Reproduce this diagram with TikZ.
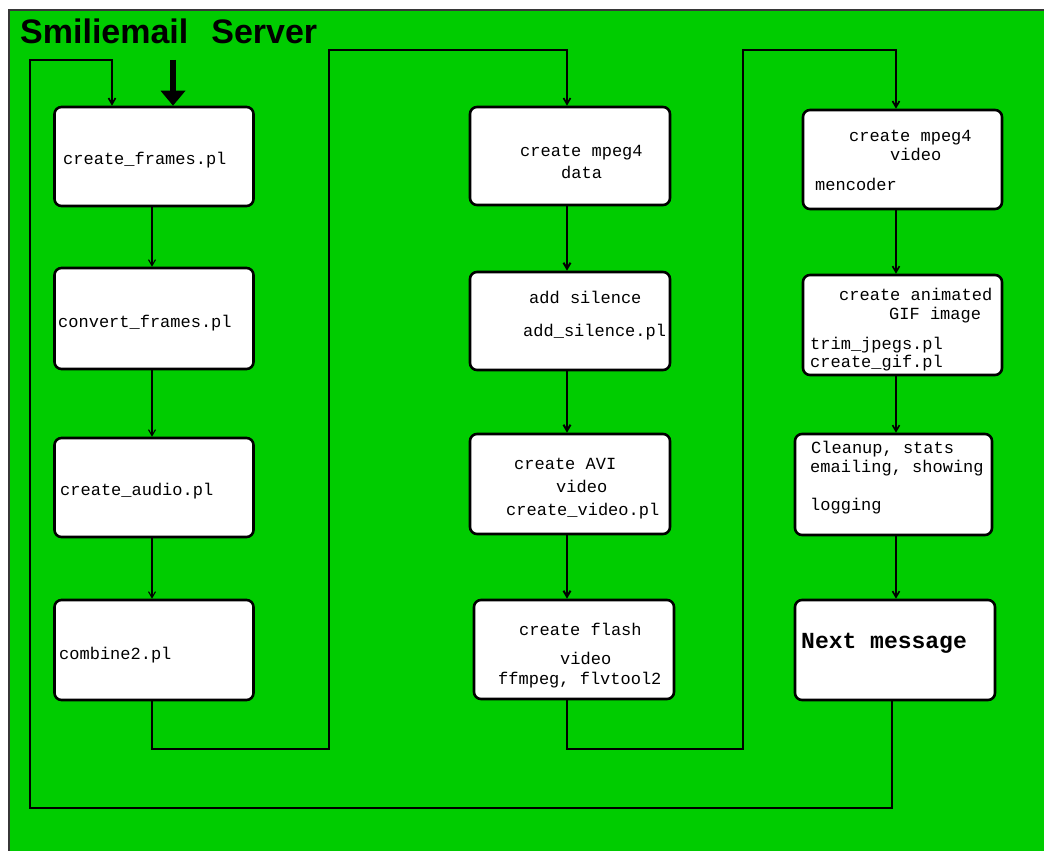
\documentclass[tikz,border=0pt]{standalone}
\usepackage{fontspec}
\setmainfont{Liberation Sans}
\setmonofont{Liberation Mono}
\usetikzlibrary{arrows.meta}
\definecolor{bggreen}{RGB}{0,204,0}
\definecolor{edgegray}{RGB}{55,55,55}
\begin{document}
\begin{tikzpicture}[x=1pt,y=-1pt,
  stepbox/.style={draw=black, line width=2.6pt, fill=white, rounded corners=7pt, inner sep=0pt},
  lbl/.style={anchor=mid west, inner sep=0pt, font=\fontsize{17}{20}\selectfont\ttfamily},
  biglbl/.style={anchor=mid west, inner sep=0pt, font=\fontsize{23}{26}\selectfont\ttfamily\bfseries},
  flow/.style={draw=black, -{Straight Barb[length=6pt,width=7pt]}},
  thinflow/.style={flow, line width=1.1pt},
  midflow/.style={flow, line width=1.6pt},
  boldflow/.style={flow, line width=2pt},
  route/.style={draw=black, line width=1.7pt},
]
% page and background
\useasboundingbox (0,0) rectangle (1044,851);
\fill[white] (0,0) rectangle (1044,851);
\fill[bggreen] (9,10) rectangle (1044,851);
\draw[edgegray, line width=1.8pt] (9,851) -- (9,10) -- (1044,10);

% title
\node[anchor=base west, inner sep=0pt, font=\fontsize{34}{38}\selectfont\bfseries] (title)
  at (20,44) {Smiliemail\hspace{23pt}Server};

% column guide coordinates
\coordinate (x1) at (152,0);
\coordinate (x2) at (567,0);
\coordinate (x3) at (896,0);
\coordinate (x3b) at (892,0);

% column 1
\node[stepbox, minimum width=199pt, minimum height=99pt] (c1a) at (154,156.5) {};
\node[stepbox, minimum width=199pt, minimum height=101pt] (c1b) at (154,318.5) {};
\node[stepbox, minimum width=199pt, minimum height=99pt] (c1c) at (154,487.5) {};
\node[stepbox, minimum width=199pt, minimum height=100pt] (c1d) at (154,650) {};

% column 2
\node[stepbox, minimum width=200pt, minimum height=98pt] (c2a) at (570,156) {};
\node[stepbox, minimum width=200pt, minimum height=98pt] (c2b) at (570,321) {};
\node[stepbox, minimum width=200pt, minimum height=100pt] (c2c) at (570,484) {};
\node[stepbox, minimum width=200pt, minimum height=99pt] (c2d) at (574,649.5) {};

% column 3
\node[stepbox, minimum width=199pt, minimum height=99pt] (c3a) at (902.5,159.5) {};
\node[stepbox, minimum width=199pt, minimum height=100pt] (c3b) at (902.5,325) {};
\node[stepbox, minimum width=197pt, minimum height=101pt] (c3c) at (893.5,484.5) {};
\node[stepbox, minimum width=200pt, minimum height=100pt] (c3d) at (895,650) {};

% box texts
\node[lbl] (t1a) at (63,162) {create\_frames.pl};
\node[lbl] (t1b) at (58,325) {convert\_frames.pl};
\node[lbl] (t1c) at (60,493) {create\_audio.pl};
\node[lbl] (t1d) at (59,657) {combine2.pl};

\node[lbl] (t2a1) at (520,154) {create mpeg4};
\node[lbl] (t2a2) at (561,176) {data};
\node[lbl] (t2b1) at (529,301) {add silence};
\node[lbl] (t2b2) at (523,334) {add\_silence.pl};
\node[lbl] (t2c1) at (514,467) {create AVI};
\node[lbl] (t2c2) at (556,490) {video};
\node[lbl] (t2c3) at (506,513) {create\_video.pl};
\node[lbl] (t2d1) at (519,633) {create flash};
\node[lbl] (t2d2) at (560,662) {video};
\node[lbl] (t2d3) at (498,682) {ffmpeg, flvtool2};

\node[lbl] (t3a1) at (849,139) {create mpeg4};
\node[lbl] (t3a2) at (890,158) {video};
\node[lbl] (t3a3) at (815,188) {mencoder};
\node[lbl] (t3b1) at (839,298) {create animated};
\node[lbl] (t3b2) at (889,317) {GIF image};
\node[lbl] (t3b3) at (810,347) {trim\_jpegs.pl};
\node[lbl] (t3b4) at (810,365) {create\_gif.pl};
\node[lbl] (t3c1) at (811,451) {Cleanup, stats};
\node[lbl] (t3c2) at (810,470) {emailing, showing};
\node[lbl] (t3c3) at (810,508) {logging};
\node[biglbl] (t3d1) at (801,646) {Next message};

% flow inside the columns
\draw[thinflow] (c1a.south -| x1) -- (c1b.north -| x1);
\draw[thinflow] (c1b.south -| x1) -- (c1c.north -| x1);
\draw[thinflow] (c1c.south -| x1) -- (c1d.north -| x1);

\draw[boldflow] (c2a.south -| x2) -- (c2b.north -| x2);
\draw[boldflow] (c2b.south -| x2) -- (c2c.north -| x2);
\draw[boldflow] (c2c.south -| x2) -- (c2d.north -| x2);

\draw[midflow] (c3a.south -| x3) -- (c3b.north -| x3);
\draw[midflow] (c3b.south -| x3) -- (c3c.north -| x3);
\draw[midflow] (c3c.south -| x3) -- (c3d.north -| x3);

% routes between the columns
\coordinate (j1) at (329,749);
\coordinate (j1top) at (329,50);
\coordinate (j2) at (743,749);
\coordinate (j2top) at (743,50);
\draw[route, -{Straight Barb[length=6pt,width=7pt]}]
  (c1d.south -| x1) |- (j1) -- (j1top) -| (c2a.north -| x2);
\draw[route, -{Straight Barb[length=6pt,width=7pt]}]
  (c2d.south -| x2) |- (j2) -- (j2top) -| (c3a.north -| x3);

% loop back to the first step
\coordinate (back) at (30,808);
\coordinate (loopin) at (112,60);
\draw[route, -{Straight Barb[length=6pt,width=7pt]}]
  (c3d.south -| x3b) |- (back) |- (loopin) -- (c1a.north -| loopin);

% incoming message
\coordinate (feed) at (173,60);
\draw[line width=6pt, -{Triangle[length=15pt,width=24pt]}] (feed) -- (c1a.north -| feed);
\end{tikzpicture}
\end{document}
